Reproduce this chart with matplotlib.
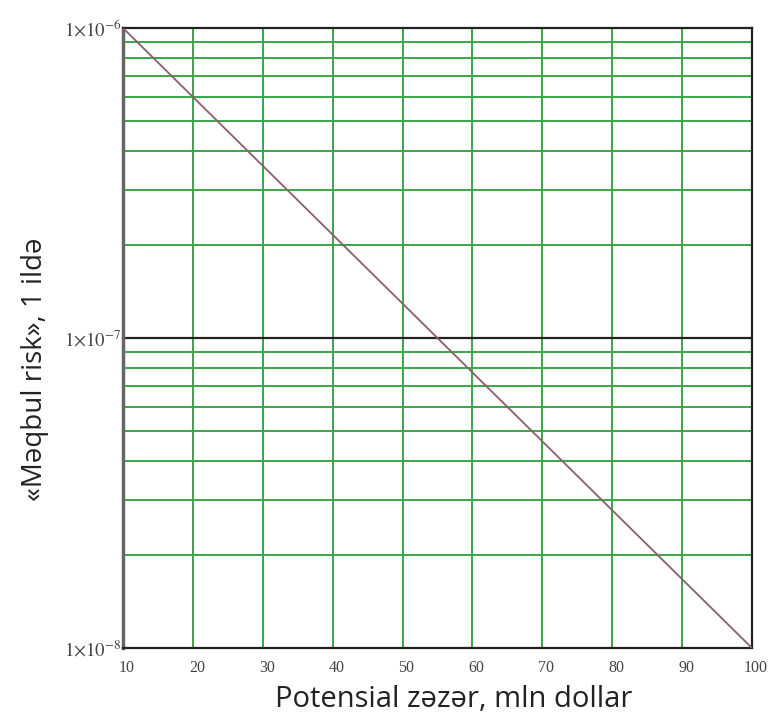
import matplotlib
matplotlib.use("Agg")
import matplotlib.pyplot as plt
from matplotlib.transforms import ScaledTranslation

# data
damage = [10, 100]            # mln dollar
risk = [1e-6, 1e-8]           # acceptable risk per year
x_ticks = [10, 20, 30, 40, 50, 60, 70, 80, 90, 100]
y_ticks = [1e-8, 1e-7, 1e-6]
y_tick_labels = [r"$1{\times}10^{-8}$", r"$1{\times}10^{-7}$", r"$1{\times}10^{-6}$"]

plt.rcParams["mathtext.fontset"] = "stix"

fig = plt.figure(figsize=(7.76, 7.13), dpi=100)
ax = fig.add_axes([0.1585, 0.0912, 0.8105, 0.8695])

# green grid: every 10 on x, minor decades on y
for xv in x_ticks[1:-1]:
    ax.axvline(xv, color="#3aa64a", lw=1.4, zorder=1)
for dec in [1e-8, 1e-7]:
    for k in range(2, 10):
        ax.axhline(k * dec, color="#3aa64a", lw=1.4, zorder=1)
ax.axhline(1e-7, color="#222222", lw=1.6, zorder=2)

ax.plot(damage, risk, color="#8a5f66", lw=1.3, zorder=3)

ax.set_yscale("log")
ax.set_xlim(10, 100)
ax.set_ylim(1e-8, 1e-6)
ax.set_xticks(x_ticks)
ax.set_xticklabels([str(v) for v in x_ticks], family="Liberation Serif", fontsize=11.5, color="#444444")
ax.set_yticks(y_ticks)
ax.set_yticklabels(y_tick_labels, fontsize=13.5, color="#444444")
ax.yaxis.set_minor_locator(matplotlib.ticker.NullLocator())
ax.tick_params(axis="x", length=0, pad=9)
ax.tick_params(axis="y", length=0, pad=1)
shift = ScaledTranslation(4 / 100, 0, fig.dpi_scale_trans)
for lab in ax.get_xticklabels():
    lab.set_transform(lab.get_transform() + shift)

for s in ax.spines.values():
    s.set_color("#222222")
    s.set_linewidth(1.6)
ax.spines["left"].set_color("#666666")
ax.spines["left"].set_linewidth(2.5)

ax.set_xlabel("Potensial zəzər, mln dollar", family="Open Sans", fontsize=21, color="#222222")
ax.xaxis.set_label_coords(0.526, -0.060)
ax.set_ylabel("«Məqbul risk», 1 ildə", family="Open Sans", fontsize=20, color="#222222")
ax.yaxis.set_label_coords(-0.118, 0.45)

fig.savefig("out.png", dpi=100)
